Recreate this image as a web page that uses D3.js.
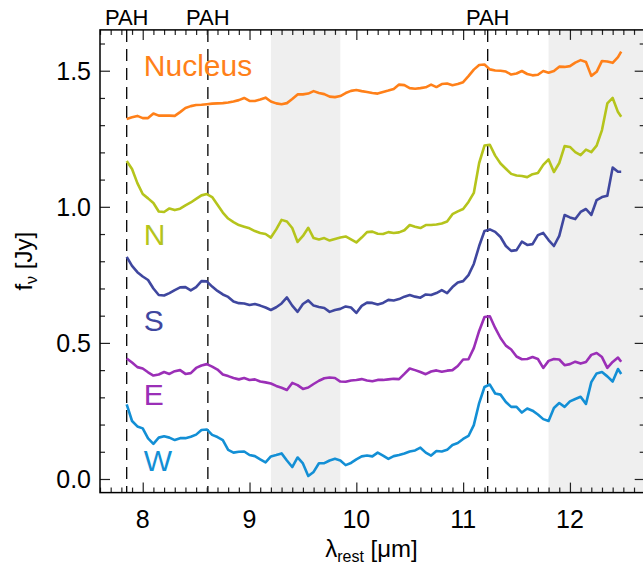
<!DOCTYPE html>
<html>
<head>
<meta charset="utf-8">
<script src="https://cdn.jsdelivr.net/npm/d3@7"></script>
<style>
  body { margin: 0; background: #fff; }
  text { font-family: "Liberation Sans", Arial, sans-serif; }
</style>
</head>
<body>
<svg width="643" height="568"></svg>
<script>
// rest wavelength grid [um]
const wave = [
  7.85, 7.90, 7.95, 8.00, 8.05, 8.10, 8.15, 8.20, 8.25, 8.30,
  8.35, 8.40, 8.45, 8.50, 8.55, 8.60, 8.65, 8.70, 8.75, 8.80,
  8.85, 8.90, 8.95, 9.00, 9.05, 9.10, 9.15, 9.20, 9.25, 9.30,
  9.35, 9.40, 9.45, 9.50, 9.55, 9.60, 9.65, 9.70, 9.75, 9.80,
  9.85, 9.90, 9.95, 10.00, 10.05, 10.10, 10.15, 10.20, 10.25, 10.30,
  10.35, 10.40, 10.45, 10.50, 10.55, 10.60, 10.65, 10.70, 10.75, 10.80,
  10.85, 10.90, 10.95, 11.00, 11.05, 11.10, 11.15, 11.20, 11.25, 11.30,
  11.35, 11.40, 11.45, 11.50, 11.55, 11.60, 11.65, 11.70, 11.75, 11.80,
  11.85, 11.90, 11.95, 12.00, 12.05, 12.10, 12.15, 12.20, 12.25, 12.30,
  12.35, 12.40, 12.45, 12.48
];

const nucleus = [
  1.323, 1.329, 1.334, 1.326, 1.326, 1.343, 1.335, 1.335, 1.335, 1.334,
  1.348, 1.363, 1.370, 1.374, 1.375, 1.377, 1.379, 1.380, 1.381, 1.383,
  1.387, 1.392, 1.400, 1.389, 1.389, 1.394, 1.401, 1.387, 1.380, 1.377,
  1.381, 1.396, 1.413, 1.413, 1.416, 1.425, 1.418, 1.414, 1.405, 1.403,
  1.407, 1.418, 1.426, 1.429, 1.425, 1.422, 1.418, 1.416, 1.422, 1.427,
  1.433, 1.449, 1.447, 1.436, 1.434, 1.436, 1.439, 1.449, 1.440, 1.451,
  1.453, 1.447, 1.451, 1.458, 1.480, 1.504, 1.521, 1.523, 1.505, 1.501,
  1.500, 1.497, 1.486, 1.490, 1.499, 1.488, 1.483, 1.485, 1.499, 1.493,
  1.499, 1.515, 1.514, 1.517, 1.530, 1.539, 1.532, 1.481, 1.496, 1.536,
  1.534, 1.529, 1.550, 1.570
];

const north = [
  1.168, 1.139, 1.087, 1.047, 1.031, 1.014, 0.983, 0.981, 0.994, 0.988,
  0.993, 1.005, 1.016, 1.029, 1.042, 1.047, 1.036, 1.008, 0.979, 0.957,
  0.944, 0.933, 0.927, 0.921, 0.911, 0.904, 0.900, 0.887, 0.917, 0.952,
  0.946, 0.922, 0.871, 0.893, 0.923, 0.885, 0.880, 0.885, 0.876, 0.882,
  0.887, 0.891, 0.880, 0.869, 0.887, 0.907, 0.909, 0.901, 0.900, 0.907,
  0.904, 0.906, 0.914, 0.933, 0.927, 0.922, 0.933, 0.933, 0.935, 0.939,
  0.946, 0.973, 0.983, 0.992, 1.018, 1.051, 1.161, 1.225, 1.228, 1.188,
  1.159, 1.140, 1.121, 1.115, 1.113, 1.109, 1.120, 1.124, 1.154, 1.174,
  1.128, 1.161, 1.223, 1.220, 1.201, 1.190, 1.210, 1.201, 1.225, 1.282,
  1.380, 1.400, 1.348, 1.331
];

const south = [
  0.816, 0.783, 0.760, 0.744, 0.731, 0.700, 0.676, 0.674, 0.683, 0.694,
  0.704, 0.705, 0.693, 0.705, 0.727, 0.726, 0.707, 0.691, 0.678, 0.669,
  0.652, 0.646, 0.645, 0.639, 0.643, 0.637, 0.630, 0.621, 0.631, 0.645,
  0.667, 0.637, 0.614, 0.643, 0.656, 0.637, 0.632, 0.628, 0.614, 0.621,
  0.625, 0.634, 0.630, 0.610, 0.636, 0.648, 0.647, 0.641, 0.647, 0.658,
  0.656, 0.661, 0.670, 0.676, 0.670, 0.666, 0.678, 0.676, 0.683, 0.694,
  0.683, 0.705, 0.722, 0.727, 0.749, 0.790, 0.856, 0.911, 0.917, 0.908,
  0.889, 0.856, 0.838, 0.841, 0.872, 0.860, 0.863, 0.896, 0.904, 0.878,
  0.856, 0.893, 0.970, 0.961, 0.955, 0.981, 0.992, 0.970, 1.025, 1.036,
  1.041, 1.144, 1.129, 1.129
];

const east = [
  0.443, 0.428, 0.411, 0.406, 0.392, 0.380, 0.384, 0.393, 0.386, 0.396,
  0.400, 0.386, 0.389, 0.408, 0.417, 0.422, 0.413, 0.402, 0.384, 0.378,
  0.371, 0.366, 0.371, 0.364, 0.366, 0.358, 0.355, 0.351, 0.342, 0.335,
  0.327, 0.353, 0.345, 0.331, 0.336, 0.349, 0.361, 0.370, 0.373, 0.371,
  0.358, 0.357, 0.362, 0.364, 0.367, 0.362, 0.359, 0.364, 0.364, 0.366,
  0.368, 0.367, 0.386, 0.406, 0.400, 0.393, 0.385, 0.395, 0.399, 0.394,
  0.398, 0.400, 0.415, 0.439, 0.440, 0.481, 0.544, 0.595, 0.598, 0.555,
  0.518, 0.490, 0.476, 0.450, 0.440, 0.441, 0.448, 0.441, 0.408, 0.434,
  0.441, 0.439, 0.418, 0.422, 0.431, 0.424, 0.430, 0.456, 0.463, 0.448,
  0.408, 0.430, 0.446, 0.431
];

const west = [
  0.274, 0.213, 0.193, 0.186, 0.149, 0.129, 0.152, 0.157, 0.152, 0.143,
  0.150, 0.150, 0.155, 0.163, 0.180, 0.182, 0.162, 0.154, 0.143, 0.107,
  0.097, 0.100, 0.101, 0.088, 0.084, 0.072, 0.061, 0.083, 0.088, 0.094,
  0.068, 0.044, 0.079, 0.057, 0.011, 0.026, 0.058, 0.058, 0.068, 0.074,
  0.068, 0.051, 0.059, 0.072, 0.083, 0.086, 0.083, 0.097, 0.086, 0.074,
  0.084, 0.088, 0.094, 0.101, 0.105, 0.115, 0.097, 0.086, 0.103, 0.101,
  0.107, 0.125, 0.132, 0.147, 0.158, 0.198, 0.279, 0.338, 0.347, 0.314,
  0.310, 0.283, 0.265, 0.265, 0.244, 0.259, 0.251, 0.237, 0.220, 0.213,
  0.261, 0.279, 0.265, 0.285, 0.294, 0.302, 0.276, 0.356, 0.388, 0.393,
  0.377, 0.358, 0.404, 0.386
];

const seriesNames = ["Nucleus", "N", "S", "E", "W"];
const seriesColors = ["#ff8019", "#b5c41c", "#3f479f", "#9b2fb7", "#138fd5"];
const seriesValues = [nucleus, north, south, east, west];
// label anchors (wavelength, flux) for the region names
const labelWave = [8.01, 8.01, 8.01, 8.01, 8.01];
const labelFlux = [1.481, 0.860, 0.543, 0.272, 0.030];

const pahLines = [7.85, 8.61, 11.23];
const grayBands = [[9.2, 9.85], [11.8, 12.8]];

const xMajor = [8, 9, 10, 11, 12];
const xMajorLabels = ["8", "9", "10", "11", "12"];
const yMajor = [0.0, 0.5, 1.0, 1.5];
const yMajorLabels = ["0.0", "0.5", "1.0", "1.5"];

const svg = d3.select("svg");
const pL = 100, pR = 644.7, pT = 29.9, pB = 492.6;

const x = d3.scaleLinear().domain([7.6, 12.7]).range([pL, pR]);
const y = d3.scaleLinear().domain([-0.05, 1.65]).range([pB, pT]);

// shaded regions
svg.append("g").selectAll("rect")
  .data(grayBands)
  .join("rect")
  .attr("x", d => x(d[0]))
  .attr("width", d => x(d[1]) - x(d[0]))
  .attr("y", pT)
  .attr("height", pB - pT)
  .attr("fill", "#efefef");

// PAH dashed markers
svg.append("g").selectAll("line")
  .data(pahLines)
  .join("line")
  .attr("x1", d => x(d)).attr("x2", d => x(d))
  .attr("y1", pT).attr("y2", pB)
  .attr("stroke", "#000")
  .attr("stroke-width", 1.3)
  .attr("stroke-dasharray", "12,7");

svg.append("g").selectAll("text")
  .data(pahLines)
  .join("text")
  .attr("x", d => x(d))
  .attr("y", 25)
  .attr("text-anchor", "middle")
  .attr("font-size", 22)
  .text("PAH");

// spectra
const line = d3.line()
  .x((d, i) => x(wave[i]))
  .y(d => y(d));

seriesValues.forEach((vals, k) => {
  svg.append("path")
    .datum(vals)
    .attr("d", line)
    .attr("fill", "none")
    .attr("stroke", seriesColors[k])
    .attr("stroke-width", 2.6)
    .attr("stroke-linejoin", "round");
  svg.append("text")
    .attr("x", x(labelWave[k]))
    .attr("y", y(labelFlux[k]))
    .attr("font-size", 30)
    .attr("fill", seriesColors[k])
    .text(seriesNames[k]);
});

// axes: ticks pointing inward on all four sides
const xMinor = d3.range(76, 128).map(v => v / 10).filter(v => !xMajor.includes(v));
const yMinor = d3.range(0, 17).map(v => v / 10).filter(v => !yMajor.includes(v));

function addAxis(gen, transform, values, size) {
  const g = svg.append("g")
    .attr("transform", transform)
    .call(gen.tickValues(values).tickSize(size).tickFormat(""));
  g.select(".domain").remove();
  g.selectAll(".tick line").attr("stroke", "#222").attr("stroke-width", 1.2);
  return g;
}
addAxis(d3.axisBottom(x), `translate(0,${pB})`, xMinor, -5);
addAxis(d3.axisBottom(x), `translate(0,${pB})`, xMajor, -10);
addAxis(d3.axisTop(x), `translate(0,${pT})`, xMinor, -5);
addAxis(d3.axisTop(x), `translate(0,${pT})`, xMajor, -10);
addAxis(d3.axisLeft(y), `translate(${pL},0)`, yMinor, -5);
addAxis(d3.axisLeft(y), `translate(${pL},0)`, yMajor, -10);
addAxis(d3.axisRight(y), `translate(${pR},0)`, yMinor, -5);
addAxis(d3.axisRight(y), `translate(${pR},0)`, yMajor, -10);

// frame
svg.append("rect")
  .attr("x", pL).attr("y", pT)
  .attr("width", pR - pL).attr("height", pB - pT)
  .attr("fill", "none")
  .attr("stroke", "#000")
  .attr("stroke-width", 1.5);

// tick labels
svg.append("g").selectAll("text")
  .data(xMajor)
  .join("text")
  .attr("x", d => x(d))
  .attr("y", 528)
  .attr("text-anchor", "middle")
  .attr("font-size", 25)
  .text((d, i) => xMajorLabels[i]);

svg.append("g").selectAll("text")
  .data(yMajor)
  .join("text")
  .attr("x", 91)
  .attr("y", d => y(d))
  .attr("dy", "0.36em")
  .attr("text-anchor", "end")
  .attr("font-size", 25)
  .text((d, i) => yMajorLabels[i]);

// axis titles
const xt = svg.append("text")
  .attr("x", (pL + 643) / 2)
  .attr("y", 557)
  .attr("text-anchor", "middle")
  .attr("font-size", 24);
xt.append("tspan").text("λ");
xt.append("tspan").attr("font-size", 16).attr("dy", 5).text("rest");
xt.append("tspan").attr("dy", -5).text(" [μm]");

const yt = svg.append("text")
  .attr("transform", `translate(32,${(pT + pB) / 2}) rotate(-90)`)
  .attr("text-anchor", "middle")
  .attr("font-size", 24);
yt.append("tspan").text("f");
yt.append("tspan").attr("font-size", 16).attr("dy", 5).text("ν");
yt.append("tspan").attr("dy", -5).text(" [Jy]");
</script>
</body>
</html>
